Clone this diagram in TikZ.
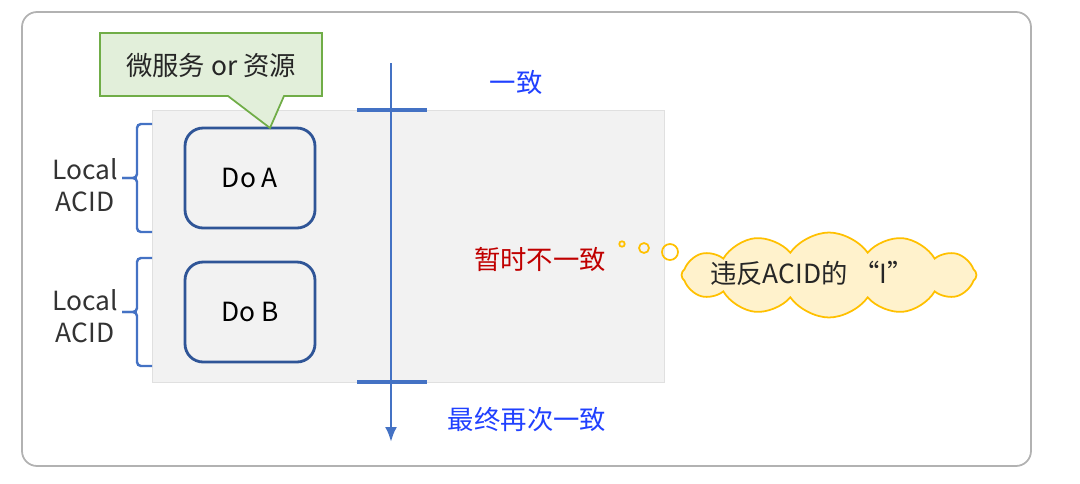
\documentclass[tikz,border=0pt]{standalone}
\usepackage{fontspec}
\setmainfont{Noto Sans CJK SC}
\usepackage{xcolor}
\usepackage{tikz}
\usetikzlibrary{shapes.symbols,arrows.meta}

\definecolor{axisblue}{RGB}{68,114,196}
\definecolor{boxblue}{RGB}{47,85,151}
\definecolor{textblue}{RGB}{32,64,255}
\definecolor{textred}{RGB}{192,0,0}
\definecolor{panelgray}{RGB}{242,242,242}
\definecolor{calloutfill}{RGB}{226,239,218}
\definecolor{calloutline}{RGB}{112,173,71}
\definecolor{cloudfill}{RGB}{255,242,204}
\definecolor{cloudline}{RGB}{255,192,0}

\begin{document}
\begin{tikzpicture}[
      x=0.02cm, y=-0.02cm, >={Latex[length=0.3cm,width=0.24cm]},
      font=\fontsize{15}{18}\selectfont,
      step box/.style={draw=boxblue,line width=1.6pt,rounded corners=0.36cm,minimum width=2.6cm,minimum height=2cm},
      tick/.style={axisblue,line width=2.4pt},
      brace/.style={axisblue,line width=1.4pt,rounded corners=0.08cm},
      lbl/.style={align=center,text=black!80}
  ]
      % 背景
      \useasboundingbox (0,0) rectangle (1080,484);
      \draw[black!30,line width=1pt,rounded corners=0.3cm] (22,12) rectangle (1031,466);
      \fill[panelgray] (152,110) rectangle (664,382);
      \draw[black!12] (152,110) rectangle (664,382);

      % 步骤
      \node[step box] (doA) at (250,178) {Do A};
      \node[step box] (doB) at (250,312) {Do B};

      % 时间轴
      \coordinate (top) at (391,63);
      \coordinate (bottom) at (391,442);
      \draw[->,axisblue,line width=1.5pt] (top) -- (bottom);
      \draw[tick] (357,110) -- (427,110);
      \draw[tick] (357,382) -- (427,382);

      % 括号
      \draw[brace] (152,124) -- (137,124) -- (137,178) -- (122,178);
      \draw[brace] (122,178) -- (137,178) -- (137,232) -- (152,232);
      \draw[brace] (152,258) -- (137,258) -- (137,312) -- (122,312);
      \draw[brace] (122,312) -- (137,312) -- (137,366) -- (152,366);
      \node[lbl] (acidA) at (85,185) {Local\\ACID};
      \node[lbl] (acidB) at (85,316) {Local\\ACID};

      % 标注
      \coordinate (tip) at (270,128);
      \draw[calloutline,fill=calloutfill,line width=1pt]
        (100,33) -- (322,33) -- (322,96) -- (284,96) -- (tip) -- (228,96) -- (100,96) -- cycle;
      \node[text=black!85] (svc) at (211,65) {微服务 or 资源};

      % 文字
      \node[text=textblue] (same) at (516,82) {一致};
      \node[text=textred] (diff) at (540,259) {暂时不一致};
      \node[text=textblue] (final) at (527,420) {最终再次一致};

      % 云
      \node[cloud,cloud puffs=12,cloud puff arc=110,aspect=3.6,draw=cloudline,fill=cloudfill,line width=1pt,
            minimum width=5.9cm,minimum height=1.7cm] (cloud) at (829,275) {};
      \node[text=black!85] (viol) at (812,273) {违反ACID的 “I”};
      \draw[cloudline,line width=1pt] (622,244) circle[radius=0.055cm];
      \draw[cloudline,line width=1pt] (644,248) circle[radius=0.1cm];
      \draw[cloudline,line width=1pt] (670,252) circle[radius=0.16cm];
  \end{tikzpicture}
\end{document}
